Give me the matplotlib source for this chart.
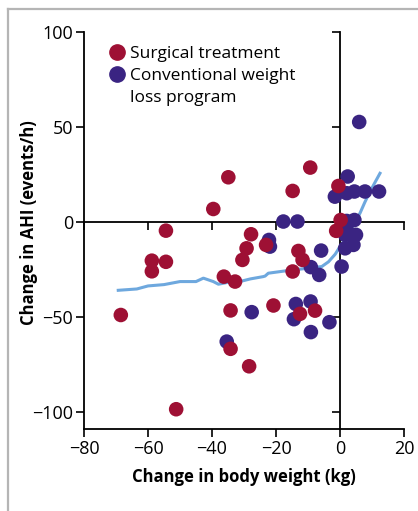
import matplotlib
matplotlib.use("Agg")
import matplotlib.pyplot as plt
from matplotlib.lines import Line2D

plt.rcParams['font.family'] = ['Open Sans', 'DejaVu Sans']

# change in body weight (kg) vs change in AHI (events/h)
surg_x = [-68.5, -58.8, -58.8, -54.4, -54.4, -51.2, -39.6, -34.9, -36.3, -32.8,
          -34.2, -34.2, -28.4, -27.8, -29.2, -30.5, -23.1, -20.8, -14.8, -9.3,
          -13.0, -11.7, -14.8, -12.5, -7.8, -0.5, 0.2, -1.2]
surg_y = [-49, -20.4, -26, -4.6, -21, -98.6, 6.8, 23.5, -28.8, -31.4,
          -46.6, -66.8, -76, -6.5, -13.9, -20, -12.1, -44, 16.3, 28.6,
          -15.3, -20, -26.1, -48.4, -46.7, 18.9, 1.0, -4.7]

conv_x = [6.0, 2.4, -1.6, 2.1, 4.5, 7.8, 12.2, -17.7, -13.3, 4.5,
          2.1, 2.1, 1.6, 5.0, 4.2, 1.6, -5.9, -9.1, -6.5, 0.5,
          -22.2, -21.9, -27.6, -13.8, -9.2, -14.4, -3.3, -9.1, -35.4]
conv_y = [52.6, 23.9, 13.3, 15.1, 16, 16, 16, 0.2, 0.2, 1,
          0.5, -4.2, -6.8, -6.8, -12.1, -13.9, -15.1, -23.8, -27.9, -23.5,
          -9.5, -13, -47.5, -43.2, -41.9, -51.2, -52.8, -58, -63]

# smoothed trend
fit_x = [-69.3, -63.5, -60, -55, -50, -45, -42.7, -39.6, -38, -35, -31.8, -28,
         -24, -23.4, -22.4, -15, -10, -5.7, -3.6, -1.5, 0, 1.5, 3.1, 4.7,
         6.25, 7.8, 9.4, 11, 12.5]
fit_y = [-36, -35.3, -33.7, -33, -31.4, -31.4, -29.6, -31.4, -32.8, -31.8,
         -31.6, -30, -28.8, -28.5, -27, -25.3, -24.4, -23.5, -21, -17, -13,
         -9.5, -5, 0, 4.6, 10.5, 16, 21, 25.6]

xticks = [-80, -60, -40, -20, 0, 20]
yticks = [-100, -50, 0, 50, 100]

red = '#9e1034'
purple = '#3a2482'
blue = '#6ea8de'

fig = plt.figure(figsize=(4.18, 5.11), dpi=100)
rect = [0.201, 0.1605, 0.7655, 0.777]

# axes used only for the lines through zero
ax0 = fig.add_axes(rect)
ax = fig.add_axes(rect)
ax0.set_zorder(1)
ax.set_zorder(2)
ax.patch.set_visible(False)

for a in (ax0, ax):
    a.set_xlim(-80, 20)
    a.set_ylim(-109, 100)
    a.set_xticks(xticks)
    a.set_yticks(yticks)
    a.spines['top'].set_visible(False)
    a.spines['right'].set_visible(False)
    a.tick_params(length=6, width=1.2, direction='out', pad=2, labelsize=13)
    a.spines['left'].set_linewidth(1.3)
    a.spines['bottom'].set_linewidth(1.3)

ax0.spines['left'].set_position(('data', 0))
ax0.spines['bottom'].set_position(('data', 0))
ax0.tick_params(labelleft=False, labelbottom=False)

ax.plot(fit_x, fit_y, color=blue, lw=2.2, zorder=2)
ax.scatter(conv_x, conv_y, s=110, color=purple, edgecolors='none', zorder=3)
ax.scatter(surg_x, surg_y, s=110, color=red, edgecolors='none', zorder=4)

ax.set_xticklabels([str(t).replace('-', '\u2212') for t in xticks])
ax.set_yticklabels([str(t).replace('-', '\u2212') for t in yticks])

ax.set_xlabel('Change in body weight (kg)', fontsize=12, fontweight='bold', labelpad=7)
ax.set_ylabel('Change in AHI (events/h)', fontsize=12, fontweight='bold')
ax.yaxis.set_label_coords(-0.145, 0.52)

handles = [
    Line2D([], [], marker='o', ls='none', ms=11, color=red),
    Line2D([], [], marker='o', ls='none', ms=11, color=purple),
    Line2D([], [], ls='none'),
]
labels = ['Surgical treatment', 'Conventional weight', 'loss program']
ax.legend(handles, labels, loc='upper left', bbox_to_anchor=(0.05, 0.992),
          frameon=False, fontsize=12.5, handlelength=0.7, handletextpad=0.4,
          labelspacing=0.35, borderaxespad=0.2)

# grey frame on top and left
fig.add_artist(Line2D([0.019, 0.019], [0, 0.982], color='#b5b5b5', lw=1.6))
fig.add_artist(Line2D([0.019, 1], [0.982, 0.982], color='#b5b5b5', lw=1.6))

fig.savefig('out.png', dpi=100)
